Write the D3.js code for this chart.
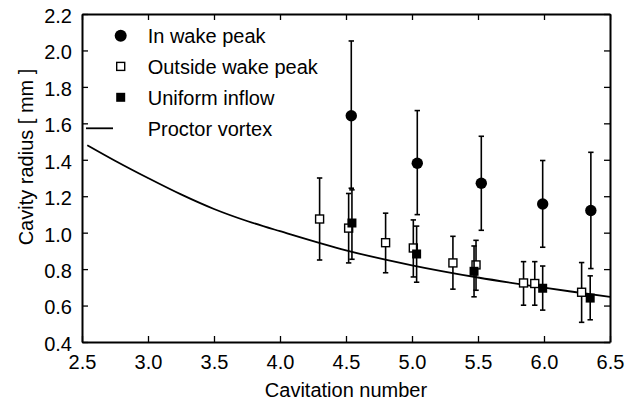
<!DOCTYPE html>
<html>
<head>
<meta charset="utf-8">
<script src="https://cdn.jsdelivr.net/npm/d3@7"></script>
<style>
  body { margin: 0; background: #fff; }
  text { font-family: Arial, "Liberation Sans", Helvetica, sans-serif; fill: #000; }
  .axis path, .axis line { stroke: #000; }
  .axis path { stroke-width: 2; }
  .axis line { stroke-width: 1.3; }
</style>
</head>
<body>
<svg width="626" height="404"></svg>
<script>
// values
var xTicks = [2.5, 3.0, 3.5, 4.0, 4.5, 5.0, 5.5, 6.0, 6.5];
var yTicks = [0.4, 0.6, 0.8, 1.0, 1.2, 1.4, 1.6, 1.8, 2.0, 2.2];

// In wake peak (circles)
var wakeX  = [4.54, 5.04, 5.525, 5.99, 6.355];
var wakeY  = [1.642, 1.381, 1.271, 1.157, 1.122];
var wakeLo = [1.244, 1.099, 1.013, 0.92, 0.803];
var wakeHi = [2.052, 1.67, 1.529, 1.396, 1.441];

// Outside wake peak (open squares)
var outX  = [4.30, 4.52, 4.80, 5.01, 5.31, 5.485, 5.845, 5.93, 6.285];
var outY  = [1.075, 1.025, 0.945, 0.916, 0.834, 0.823, 0.724, 0.721, 0.673];
var outLo = [0.85, 0.834, 0.78, 0.757, 0.69, 0.684, 0.602, 0.602, 0.508];
var outHi = [1.30, 1.215, 1.107, 1.07, 0.98, 0.958, 0.841, 0.841, 0.836];

// Uniform inflow (filled squares)
var uniX  = [4.545, 5.035, 5.47, 5.99, 6.35];
var uniY  = [1.053, 0.883, 0.788, 0.695, 0.641];
var uniLo = [0.854, 0.728, 0.648, 0.575, 0.522];
var uniHi = [1.235, 1.036, 0.927, 0.817, 0.763];

// Proctor vortex curve
var procX = [2.54, 2.75, 3.0, 3.25, 3.5, 3.75, 4.0, 4.5, 5.0, 5.5, 6.0, 6.5];
var procY = [1.48, 1.395, 1.30, 1.21, 1.13, 1.064, 1.008, 0.903, 0.821, 0.754, 0.698, 0.648];

var legendNames = ['In wake peak', 'Outside wake peak', 'Uniform inflow', 'Proctor vortex'];

var margin = { top: 14, right: 16, bottom: 62, left: 82 };
var width = 626 - margin.left - margin.right,
    height = 404 - margin.top - margin.bottom;

var svg = d3.select('svg')
  .append('g')
    .attr('transform', 'translate(' + margin.left + ',' + margin.top + ')');

var x = d3.scaleLinear().domain([2.5, 6.5]).range([0, width]);
var y = d3.scaleLinear().domain([0.4, 2.2]).range([height, 0]);

function rows(xs, ys, lo, hi) {
  return xs.map(function(d, i) { return { x: d, y: ys[i], lo: lo[i], hi: hi[i] }; });
}

// axes, ticks pointing inwards
svg.append('g')
  .attr('class', 'axis')
  .attr('transform', 'translate(0,' + height + ')')
  .call(d3.axisBottom(x).tickValues(xTicks).tickFormat(d3.format('.1f')).tickSize(-6).tickSizeOuter(0).tickPadding(13))
  .call(function(g) { g.selectAll('text').style('font-size', '20px'); });

svg.append('g')
  .attr('class', 'axis')
  .call(d3.axisTop(x).tickValues(xTicks).tickFormat('').tickSize(-6).tickSizeOuter(0));

svg.append('g')
  .attr('class', 'axis')
  .call(d3.axisLeft(y).tickValues(yTicks).tickFormat(d3.format('.1f')).tickSize(-6).tickSizeOuter(0).tickPadding(10))
  .call(function(g) { g.selectAll('text').style('font-size', '20px').attr('dy', '0.42em'); });

svg.append('g')
  .attr('class', 'axis')
  .attr('transform', 'translate(' + width + ',0)')
  .call(d3.axisRight(y).tickValues(yTicks).tickFormat('').tickSize(-6).tickSizeOuter(0));

// axis titles
svg.append('text')
  .attr('x', width / 2)
  .attr('y', height + 55)
  .style('text-anchor', 'middle')
  .style('font-size', '20px')
  .text('Cavitation number');

svg.append('text')
  .attr('transform', 'translate(' + (33 - margin.left) + ',' + (157 - margin.top) + ') rotate(-90)')
  .style('text-anchor', 'middle')
  .style('font-size', '20px')
  .text('Cavity radius [ mm ]');

// Proctor vortex line
var line = d3.line()
  .x(function(d) { return x(d.x); })
  .y(function(d) { return y(d.y); })
  .curve(d3.curveCatmullRom);

svg.append('path')
  .datum(procX.map(function(d, i) { return { x: d, y: procY[i] }; }))
  .attr('fill', 'none')
  .attr('stroke', '#000')
  .attr('stroke-width', 1.8)
  .attr('d', line);

function errorBars(data) {
  var g = svg.append('g').attr('stroke', '#000').attr('stroke-width', 1.6);
  g.selectAll('.stem').data(data).enter().append('line')
    .attr('x1', function(d) { return x(d.x); })
    .attr('x2', function(d) { return x(d.x); })
    .attr('y1', function(d) { return y(d.lo); })
    .attr('y2', function(d) { return y(d.hi); });
  g.selectAll('.caphi').data(data).enter().append('line')
    .attr('x1', function(d) { return x(d.x) - 2.7; })
    .attr('x2', function(d) { return x(d.x) + 2.7; })
    .attr('y1', function(d) { return y(d.hi); })
    .attr('y2', function(d) { return y(d.hi); });
  g.selectAll('.caplo').data(data).enter().append('line')
    .attr('x1', function(d) { return x(d.x) - 2.7; })
    .attr('x2', function(d) { return x(d.x) + 2.7; })
    .attr('y1', function(d) { return y(d.lo); })
    .attr('y2', function(d) { return y(d.lo); });
}

var outData = rows(outX, outY, outLo, outHi);
var uniData = rows(uniX, uniY, uniLo, uniHi);
var wakeData = rows(wakeX, wakeY, wakeLo, wakeHi);

errorBars(outData);
svg.selectAll('.open').data(outData).enter().append('rect')
  .attr('x', function(d) { return x(d.x) - 4; })
  .attr('y', function(d) { return y(d.y) - 4; })
  .attr('width', 8).attr('height', 8)
  .attr('fill', '#fff').attr('stroke', '#000').attr('stroke-width', 1.4);

errorBars(uniData);
svg.selectAll('.filled').data(uniData).enter().append('rect')
  .attr('x', function(d) { return x(d.x) - 4.5; })
  .attr('y', function(d) { return y(d.y) - 4.5; })
  .attr('width', 9).attr('height', 9)
  .attr('fill', '#000');

errorBars(wakeData);
svg.selectAll('.dot').data(wakeData).enter().append('circle')
  .attr('cx', function(d) { return x(d.x); })
  .attr('cy', function(d) { return y(d.y); })
  .attr('r', 5.7)
  .attr('fill', '#000');

// legend
var legend = svg.append('g').attr('transform', 'translate(0,0)');
var rowY = [21.7, 52.4, 83.3, 114.3];

legend.append('circle').attr('cx', 38.7).attr('cy', rowY[0]).attr('r', 6).attr('fill', '#000');
legend.append('rect').attr('x', 34.7).attr('y', rowY[1] - 4).attr('width', 8).attr('height', 8)
  .attr('fill', '#fff').attr('stroke', '#000').attr('stroke-width', 1.4);
legend.append('rect').attr('x', 34.2).attr('y', rowY[2] - 4.5).attr('width', 9).attr('height', 9).attr('fill', '#000');
legend.append('line').attr('x1', 4).attr('x2', 31).attr('y1', rowY[3]).attr('y2', rowY[3])
  .attr('stroke', '#000').attr('stroke-width', 1.8);

legend.selectAll('.lt').data(legendNames).enter().append('text')
  .attr('x', 65.7)
  .attr('y', function(d, i) { return rowY[i]; })
  .attr('dy', '0.36em')
  .style('font-size', '20px')
  .text(function(d) { return d; });
</script>
</body>
</html>
